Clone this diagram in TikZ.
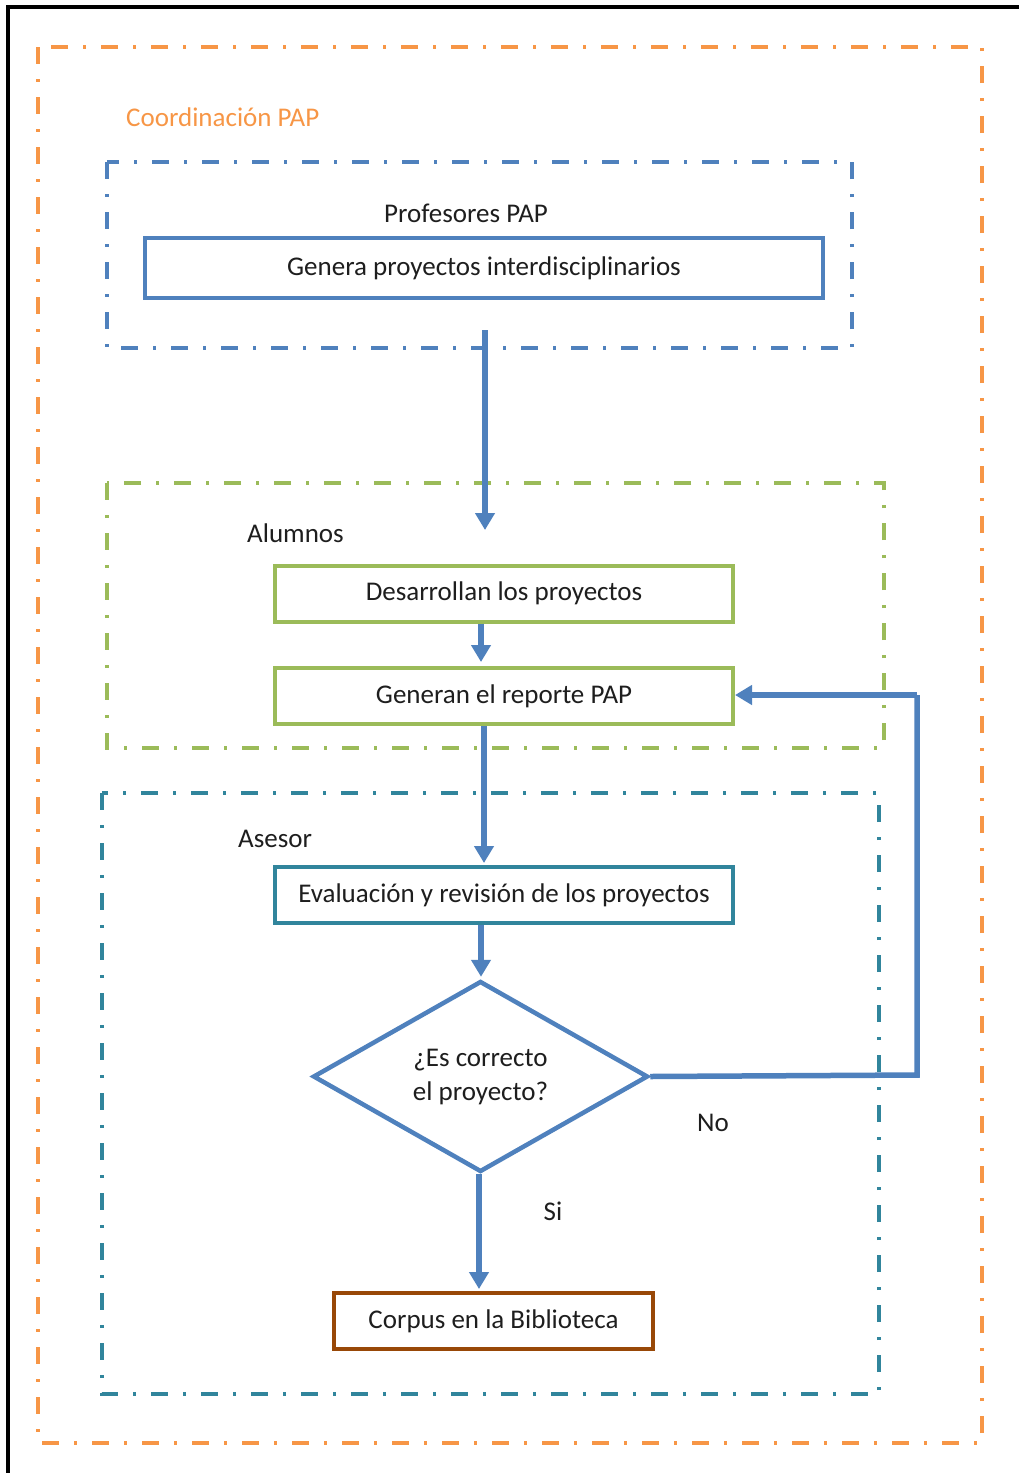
\documentclass[tikz,border=0pt]{standalone}
\usepackage{fontspec}
\setmainfont{Carlito}
\usetikzlibrary{shapes.geometric,arrows.meta,calc}

\definecolor{cOrange}{RGB}{247,150,70}
\definecolor{cBlue}{RGB}{79,129,189}
\definecolor{cGreen}{RGB}{155,187,89}
\definecolor{cTeal}{RGB}{49,133,156}
\definecolor{cBrown}{RGB}{152,72,7}
\definecolor{cText}{RGB}{30,30,30}

\tikzset{
  frame/.style={line width=4.5pt, dash pattern=on 17pt off 15pt on 3pt off 15pt},
  procbox/.style={draw, line width=4pt, minimum height=56pt, inner sep=0pt,
                  font=\fontsize{27}{32}\selectfont, text=cText},
  lbl/.style={font=\fontsize{27}{32}\selectfont, text=cText, inner sep=0pt},
  arr/.style={draw=cBlue, line width=5.5pt,
              -{Triangle[length=17pt,width=19pt]}},
  link/.style={draw=cBlue, line width=5.5pt},
}

\begin{document}
\begin{tikzpicture}[x=1pt,y=-1pt]
\useasboundingbox (0,0) rectangle (1019,1473);
\fill[white] (0,0) rectangle (1019,1473);

% page border
\draw[line width=3.5pt, black] (8,1480) -- (8,7) -- (1030,7);

% group frames
\draw[frame, cOrange] (38,47) rectangle (982,1443);
\draw[frame, cBlue]   (107,162) rectangle (852,348);
\draw[frame, cGreen]  (107,483) rectangle (884,748);
\draw[frame, cTeal]   (102,793) rectangle (879,1394);

% group titles
\node[lbl, anchor=west, text=cOrange] (tcoord) at (126,117) {Coordinación PAP};
\node[lbl] (tprof) at (466,213) {Profesores PAP};
\node[lbl, anchor=west] (talum) at (247,533) {Alumnos};
\node[lbl, anchor=west] (tases) at (238,839) {Asesor};

% process boxes
\node[procbox, draw=cBlue, minimum width=678pt, minimum height=60pt] (gen) at (484,268)
  {Genera proyectos interdisciplinarios};
\node[procbox, draw=cGreen, minimum width=458pt] (des) at (504,593.5)
  {Desarrollan los proyectos};
\node[procbox, draw=cGreen, minimum width=458pt] (rep) at (504,696)
  {Generan el reporte PAP};
\node[procbox, draw=cTeal, minimum width=458pt] (eva) at (504,895)
  {Evaluación y revisión de los proyectos};
\node[draw=cBlue, line width=4.5pt, shape=diamond, minimum width=335pt,
      minimum height=183pt, inner sep=0pt, align=center,
      font=\fontsize{27}{34}\selectfont, text=cText] (dec) at (480.5,1076.5)
  {¿Es correcto\\el proyecto?};
\node[procbox, draw=cBrown, minimum width=319pt] (cor) at (493.5,1321)
  {Corpus en la Biblioteca};

% branch labels
\node[lbl] (lno) at (713,1123) {No};
\node[lbl] (lsi) at (553,1211) {Si};

% connector guide points
\coordinate (p1) at (485,330);
\coordinate (p2) at (485,530);
\coordinate (c481) at (481,0);
\coordinate (c484) at (484,0);
\coordinate (c479) at (479,0);
\coordinate (k1) at (917,1075);
\coordinate (k2) at (917,695);

% connectors
\draw[arr] (p1) -- (p2);
\draw[arr] (des.south -| c481) -- ($(rep.north -| c481)+(0,-4)$);
\draw[arr] (rep.south -| c484) -- ($(eva.north -| c484)+(0,-2)$);
\draw[arr] (eva.south -| c481) -- ($(dec.north -| c481)+(0,-2)$);
\draw[arr] (dec.south -| c479) -- ($(cor.north -| c479)+(0,-2)$);
\draw[link, line join=miter] (dec.east) -- (k1) -- (k2);
\draw[arr] (k2) -- (rep.east |- k2);
\end{tikzpicture}
\end{document}
